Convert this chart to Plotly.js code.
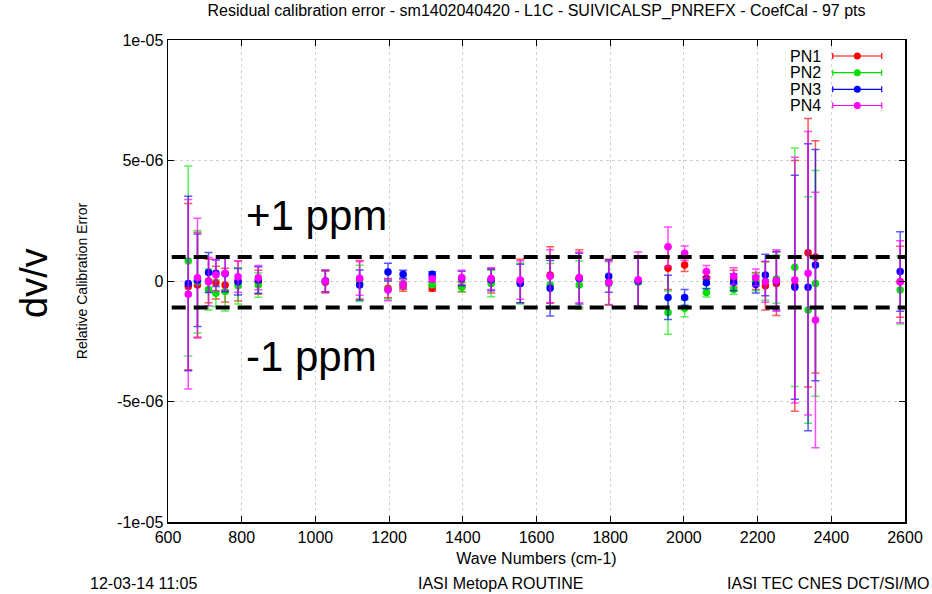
<!DOCTYPE html>
<html>
<head>
<meta charset="utf-8">
<script src="https://cdn.plot.ly/plotly-3.0.1.min.js"></script>
<style>html,body{margin:0;padding:0;background:#fff;}#chart{width:932px;height:594px;}</style>
</head>
<body>
<div id="chart"></div>
<script>
// Wave numbers (cm-1)
const waveNumbers = [655, 680, 710, 730, 755, 790, 845, 1027, 1120, 1197, 1238, 1317, 1397, 1477, 1556,
  1637, 1716, 1796, 1876, 1957, 2002, 2061, 2135, 2195, 2221, 2251, 2301, 2337, 2357, 2587];

// Residual errors, in units of 1e-6
const pn1 = [-0.23, -0.17, 0.0, -0.07, -0.17, 0.0, -0.05, -0.05, 0.05, -0.3, -0.23, -0.3, -0.25, 0.0, 0.0,
  0.25, 0.1, -0.05, 0.0, 0.53, 0.66, 0.11, 0.1, 0.0, -0.2, -0.1, -0.2, 1.17, 1.0, -0.03];
const pn1Err = [3.45, 2.19, 0.9, 0.68, 0.7, 0.83, 0.5, 0.45, 0.8, 0.4, 0.2, 0.12, 0.2, 0.5, 0.9,
  1.17, 1.2, 0.95, 1.05, 0.88, 0.27, 0.25, 0.35, 0.35, 1.0, 1.33, 5.2, 5.57, 4.82, 1.47];

const pn2 = [0.83, -0.03, -0.35, -0.51, -0.44, -0.2, -0.17, 0.0, -0.1, -0.35, -0.1, -0.15, -0.25, -0.1, -0.1,
  -0.17, -0.17, -0.1, -0.05, -1.31, -1.13, -0.48, -0.35, -0.05, 0.0, 0.08, 0.57, -1.2, -0.1, -0.37];
const pn2Err = [3.94, 2.13, 0.85, 0.55, 0.8, 0.75, 0.5, 0.45, 0.75, 0.4, 0.2, 0.12, 0.2, 0.55, 0.85,
  0.9, 1.0, 0.9, 1.0, 0.9, 0.35, 0.18, 0.2, 0.35, 0.8, 1.0, 4.95, 4.7, 4.68, 1.41];

const pn3 = [-0.1, 0.03, 0.35, 0.32, 0.3, -0.03, 0.04, 0.0, -0.17, 0.37, 0.28, 0.28, 0.1, 0.05, -0.1,
  -0.3, 0.1, 0.2, 0.0, -0.68, -0.68, -0.07, -0.05, -0.15, 0.25, 0.0, -0.26, -0.26, 0.66, 0.39];
const pn3Err = [3.62, 1.92, 0.83, 0.55, 0.75, 0.55, 0.55, 0.45, 0.63, 0.37, 0.17, 0.1, 0.3, 0.45, 0.8,
  1.15, 1.05, 0.67, 1.05, 0.92, 0.33, 0.25, 0.35, 0.35, 0.86, 1.2, 4.65, 5.95, 4.8, 1.65];

const pn4 = [-0.55, 0.14, -0.03, 0.25, 0.32, 0.18, 0.14, 0.0, 0.11, -0.37, -0.14, 0.08, 0.15, 0.1, 0.04,
  0.2, 0.15, -0.07, 0.05, 1.42, 1.15, 0.39, 0.2, 0.15, -0.03, 0.02, 0.04, 0.32, -1.62, -0.03];
const pn4Err = [3.93, 2.46, 1.0, 0.65, 0.7, 0.65, 0.5, 0.45, 0.7, 0.45, 0.2, 0.12, 0.3, 0.45, 0.8,
  1.1, 1.05, 0.9, 1.15, 0.82, 0.3, 0.25, 0.35, 0.35, 0.85, 1.28, 5.1, 5.88, 5.3, 1.7];

const seriesNames = ['PN1', 'PN2', 'PN3', 'PN4'];
const ppmLimits = [1.0, -1.1];   // dashed reference lines, in 1e-6

const xTickVals = [600, 800, 1000, 1200, 1400, 1600, 1800, 2000, 2200, 2400, 2600];
const yTickVals = [-1e-5, -5e-6, 0, 5e-6, 1e-5];
const yTickText = ['-1e-05', '-5e-06', '0', '5e-06', '1e-05'];

const colors = ['#ff0000', '#00e000', '#0000ff', '#ff00ff'];
const barColors = ['rgba(255,0,0,0.65)', 'rgba(0,230,0,0.65)', 'rgba(0,0,255,0.65)', 'rgba(255,0,255,0.7)'];

const FONT = 'Liberation Sans, Arial, Helvetica, sans-serif';
const scale = v => v * 1e-6;

const vals = [pn1, pn2, pn3, pn4];
const errs = [pn1Err, pn2Err, pn3Err, pn4Err];

const traces = vals.map((v, i) => ({
  type: 'scatter',
  mode: 'markers',
  name: seriesNames[i],
  x: waveNumbers,
  y: v.map(scale),
  marker: {color: colors[i], size: 7.5, symbol: 'circle'},
  error_y: {type: 'data', array: errs[i].map(scale), visible: true,
            color: barColors[i], thickness: 1.5, width: 4},
  showlegend: false,
  cliponaxis: false
}));

// plot area in pixels: left 168, right 905, top 40, bottom 522
const L = 168, R = 905, T = 40, B = 522;
const px = p => (p - L) / (R - L);
const py = p => (B - p) / (B - T);

const shapes = [];
ppmLimits.forEach(lim => {
  shapes.push({type: 'line', xref: 'paper', yref: 'y', x0: 0.005, x1: 1, y0: scale(lim), y1: scale(lim),
               line: {color: '#000', width: 4, dash: '14px,8px'}});
});

// manual legend (text to the left of the symbol, gnuplot style)
const legendRows = [56, 72.7, 89.3, 105.5];
const annotations = [];
seriesNames.forEach((n, i) => {
  const y = py(legendRows[i]);
  const x0 = px(832.7), x1 = px(881.7), xm = px(857.3);
  const cap = 3 / (B - T);
  shapes.push({type: 'line', xref: 'paper', yref: 'paper', x0: x0, x1: x1, y0: y, y1: y,
               line: {color: colors[i], width: 1.2}});
  shapes.push({type: 'line', xref: 'paper', yref: 'paper', x0: x0, x1: x0, y0: y - cap, y1: y + cap,
               line: {color: colors[i], width: 1.2}});
  shapes.push({type: 'line', xref: 'paper', yref: 'paper', x0: x1, x1: x1, y0: y - cap, y1: y + cap,
               line: {color: colors[i], width: 1.2}});
  const rx = 3.5 / (R - L), ry = 3.5 / (B - T);
  shapes.push({type: 'circle', xref: 'paper', yref: 'paper', x0: xm - rx, x1: xm + rx, y0: y - ry, y1: y + ry,
               fillcolor: colors[i], line: {color: colors[i], width: 0}});
  annotations.push({xref: 'paper', yref: 'paper', x: px(823), y: y, xanchor: 'right', yanchor: 'middle',
                    text: n, showarrow: false, font: {family: FONT, size: 16, color: '#000'}});
});

annotations.push(
  {xref: 'paper', yref: 'paper', x: px(244), y: py(215), xanchor: 'left', yanchor: 'middle',
   text: '+1 ppm', showarrow: false, font: {family: FONT, size: 42, color: '#000'}},
  {xref: 'paper', yref: 'paper', x: px(244), y: py(356), xanchor: 'left', yanchor: 'middle',
   text: '-1 ppm', showarrow: false, font: {family: FONT, size: 42, color: '#000'}},
  {xref: 'paper', yref: 'paper', x: px(34), y: py(283), xanchor: 'center', yanchor: 'middle', textangle: -90,
   text: 'dv/v', showarrow: false, font: {family: FONT, size: 38, color: '#000'}},
  {xref: 'paper', yref: 'paper', x: px(88), y: py(583), xanchor: 'left', yanchor: 'middle',
   text: '12-03-14 11:05', showarrow: false, font: {family: FONT, size: 16, color: '#000'}},
  {xref: 'paper', yref: 'paper', x: px(500), y: py(583), xanchor: 'center', yanchor: 'middle',
   text: 'IASI MetopA ROUTINE', showarrow: false, font: {family: FONT, size: 16, color: '#000'}},
  {xref: 'paper', yref: 'paper', x: px(931), y: py(583), xanchor: 'right', yanchor: 'middle',
   text: 'IASI TEC CNES DCT/SI/MO', showarrow: false, font: {family: FONT, size: 16, color: '#000'}}
);

const layout = {
  width: 932, height: 594,
  margin: {l: L, r: 932 - R, t: T, b: 594 - B, pad: 0},
  paper_bgcolor: '#fff', plot_bgcolor: '#fff',
  font: {family: FONT, size: 16, color: '#000'},
  title: {text: 'Residual calibration error - sm1402040420 - L1C - SUIVICALSP_PNREFX - CoefCal - 97 pts',
          x: 0.5, xref: 'paper', xanchor: 'center', y: 1 - 10 / 594, yref: 'container', yanchor: 'middle',
          font: {family: FONT, size: 16, color: '#000'}},
  xaxis: {
    range: [600, 2600], tickvals: xTickVals, ticktext: xTickVals.map(String),
    showline: true, linecolor: '#000', linewidth: 1.5, mirror: 'ticks',
    ticks: 'inside', ticklen: 6, tickcolor: '#000', tickwidth: 1,
    showgrid: true, gridcolor: '#d0d0d0', griddash: 'dot', gridwidth: 1, zeroline: false,
    tickfont: {family: FONT, size: 16, color: '#000'},
    title: {text: 'Wave Numbers (cm-1)', standoff: 8, font: {family: FONT, size: 16, color: '#000'}}
  },
  yaxis: {
    range: [-1e-5, 1e-5], tickvals: yTickVals, ticktext: yTickText,
    showline: true, linecolor: '#000', linewidth: 1.5, mirror: 'ticks',
    ticks: 'inside', ticklen: 6, tickcolor: '#000', tickwidth: 1,
    showgrid: true, gridcolor: '#d0d0d0', griddash: 'dot', gridwidth: 1, zeroline: false,
    tickfont: {family: FONT, size: 16, color: '#000'},
    title: {text: 'Relative Calibration Error', standoff: 26, font: {family: FONT, size: 14, color: '#000'}}
  },
  shapes: shapes,
  annotations: annotations,
  showlegend: false
};

Plotly.newPlot('chart', traces, layout, {displayModeBar: false, staticPlot: true});
</script>
</body>
</html>
